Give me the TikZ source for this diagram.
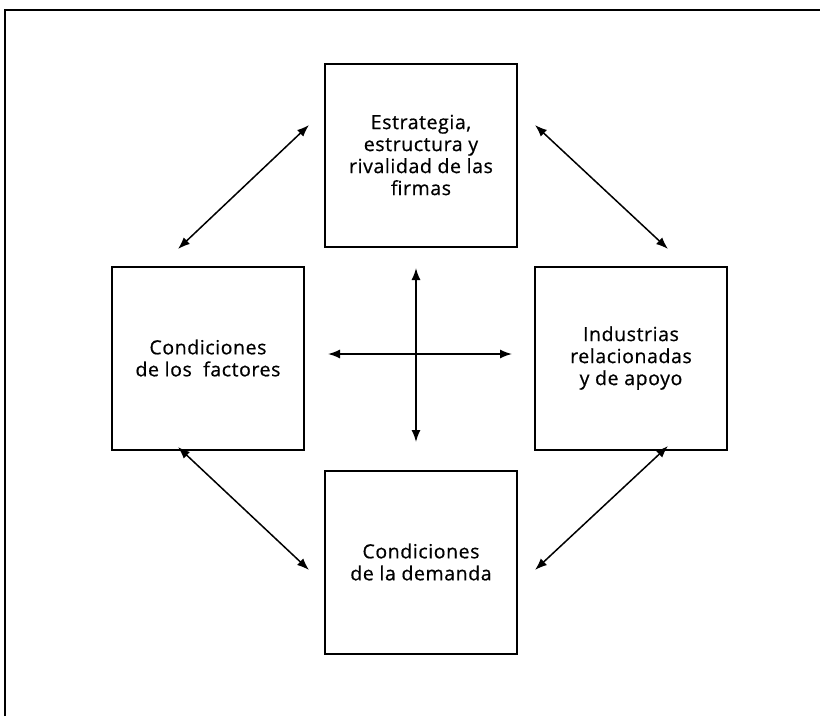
\documentclass[tikz,border=0pt]{standalone}
\usepackage{fontspec}
\setmainfont{Open Sans}[LetterSpace=3,FakeBold=0.6]
\usetikzlibrary{arrows.meta}
\begin{document}
\begin{tikzpicture}[x=1pt,y=-1pt,
  box/.style={draw,line width=2pt,minimum width=192pt,minimum height=183pt,align=center,font=\fontsize{19.5}{22}\selectfont,inner sep=0pt},
  conn/.style={line width=1.5pt,{Latex[length=12pt,width=9pt]}-{Latex[length=12pt,width=9pt]}}]
\useasboundingbox (0,0) rectangle (820,716);
\draw[line width=1.5pt] (5,716) -- (5,10) -- (820,10);
\node[box] (top) at (421,155) {Estrategia,\\estructura y\\rivalidad de las\\firmas};
\node[box] (left) at (208,358) {Condiciones\\de los\ \ factores};
\node[box] (right) at (631,358) {Industrias\\relacionadas\\y de apoyo};
\node[box] (bot) at (421,562) {Condiciones\\de la demanda};
\coordinate (tl1) at (178,249); \coordinate (tl2) at (309,125);
\coordinate (tr1) at (535,125); \coordinate (tr2) at (668,249);
\coordinate (bl1) at (178,447); \coordinate (bl2) at (309,570);
\coordinate (br1) at (535,570); \coordinate (br2) at (668,446);
\coordinate (h1) at (328,354); \coordinate (h2) at (512,354);
\coordinate (v1) at (416,268); \coordinate (v2) at (416,442);
\draw[conn] (tl1) -- (tl2);
\draw[conn] (tr1) -- (tr2);
\draw[conn] (bl1) -- (bl2);
\draw[conn] (br1) -- (br2);
\draw[conn] (h1) -- (h2);
\draw[conn] (v1) -- (v2);
\end{tikzpicture}
\end{document}
